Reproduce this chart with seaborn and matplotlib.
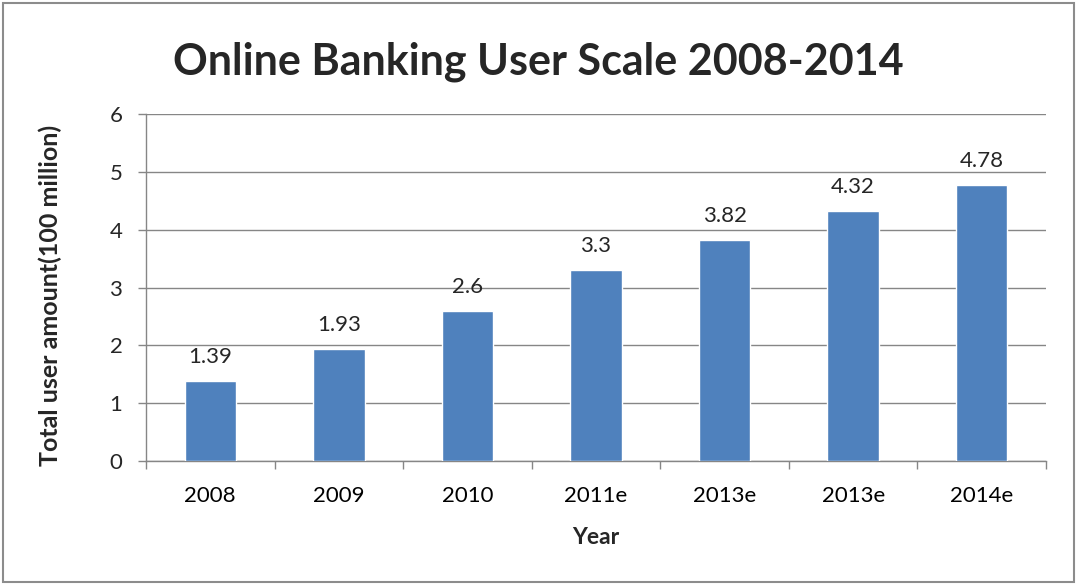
import matplotlib
matplotlib.use("Agg")
import matplotlib.pyplot as plt
from matplotlib.patches import Rectangle
from matplotlib.ticker import FixedLocator
import seaborn as sns
import pandas as pd

# Chart data
year_labels = ["2008", "2009", "2010", "2011e", "2013e", "2013e", "2014e"]
users = [1.39, 1.93, 2.6, 3.3, 3.82, 4.32, 4.78]
value_labels = ["1.39", "1.93", "2.6", "3.3", "3.82", "4.32", "4.78"]
y_ticks = [0, 1, 2, 3, 4, 5, 6]

sns.set_theme(style="white")
plt.rcParams["font.family"] = ["Lato", "DejaVu Sans"]

bar_color = "#4F81BD"
grid_color = "#868686"
fs = 16

# positions keep duplicate year labels as separate bars
df = pd.DataFrame({"pos": list(range(len(users))), "users": users})

fig = plt.figure(figsize=(10.77, 5.85), dpi=100)
ax = fig.add_axes([146 / 1077, 1 - 461 / 585, 900 / 1077, 347 / 585])

sns.barplot(data=df, x="pos", y="users", color=bar_color, width=0.4,
            saturation=1, ax=ax, zorder=3)

ax.set_ylim(0, 6)
ax.set_xlim(-0.5, len(users) - 0.5)
ax.set_yticks(y_ticks)
ax.set_yticklabels([str(t) for t in y_ticks], fontsize=fs)
ax.set_xticks(range(len(users)))
ax.set_xticklabels(year_labels, fontsize=fs)

# category boundary ticks on the x axis
ax.xaxis.set_minor_locator(FixedLocator([i - 0.5 for i in range(len(users) + 1)]))
ax.tick_params(axis="x", which="major", length=0, pad=18, colors="black")
ax.tick_params(axis="x", which="minor", length=6, width=1, color=grid_color, bottom=True)
ax.tick_params(axis="y", which="major", length=6, width=1, color=grid_color, left=True, pad=11)

ax.yaxis.grid(True, color=grid_color, linewidth=1)
ax.set_axisbelow(True)
for side in ["top", "right"]:
    ax.spines[side].set_visible(False)
for side in ["left", "bottom"]:
    ax.spines[side].set_color(grid_color)
    ax.spines[side].set_linewidth(1)

for p, lab in zip(ax.patches, value_labels):
    ax.annotate(lab, (p.get_x() + p.get_width() / 2, p.get_height()),
                xytext=(0, 13), textcoords="offset points",
                ha="center", va="baseline", fontsize=fs)

ax.set_xlabel("Year", fontsize=16.5, fontweight="bold")
ax.xaxis.set_label_coords(0.5, (461 - 527) / 347)
ax.set_ylabel("Total user amount(100 million)", fontsize=18, fontweight="bold")
ax.yaxis.set_label_coords((62 - 146) / 900, (461 - 295) / 347)

fig.text(538 / 1077, 1 - 75 / 585, "Online Banking User Scale 2008-2014",
         ha="center", va="baseline", fontsize=31, fontweight="bold")

fig.patches.append(Rectangle((3 / 1077, 3 / 585), 1071 / 1077, 579 / 585,
                             transform=fig.transFigure, fill=False,
                             edgecolor="#8C8C8C", linewidth=1.5))

fig.savefig("out.png", dpi=100, facecolor="white")
